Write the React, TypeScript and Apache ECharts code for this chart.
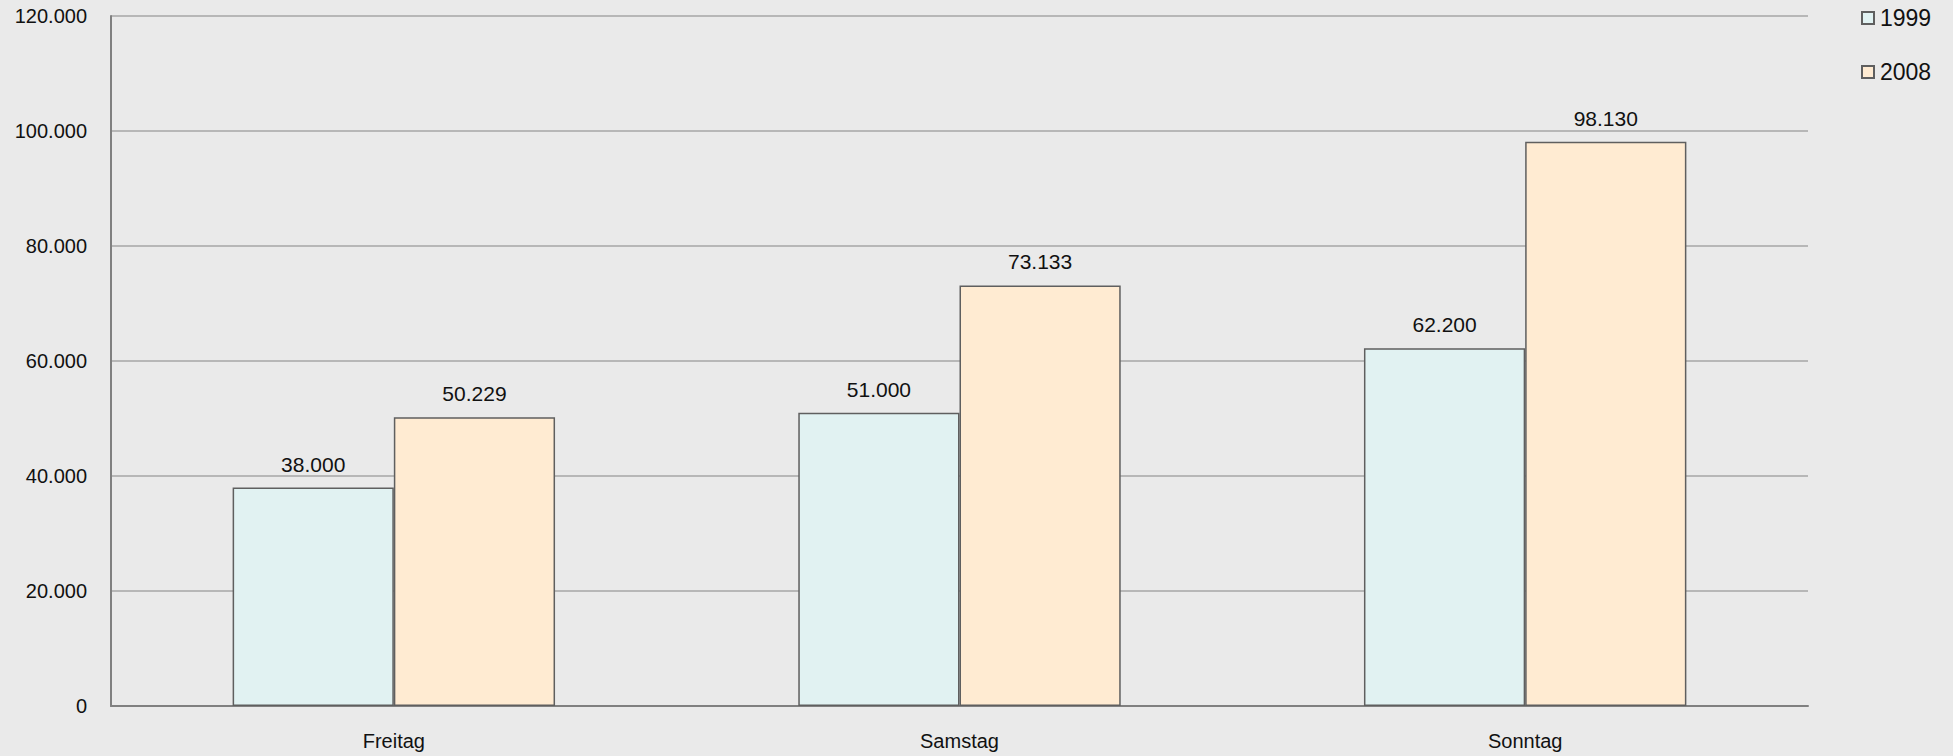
import React, { useEffect, useRef } from "react";
import * as echarts from "echarts";

const categories = ["Freitag", "Samstag", "Sonntag"];
const values1999 = [38000, 51000, 62200];
const values2008 = [50229, 73133, 98130];
const seriesNames = ["1999", "2008"];

const fmt = (v: number) => {
  const s = Math.round(v).toString();
  return s.replace(/\B(?=(\d{3})+(?!\d))/g, ".");
};

export default function App() {
  const ref = useRef<HTMLDivElement>(null);
  useEffect(() => {
    document.body.style.margin = "0";
    const chart = echarts.init(ref.current!, undefined, { renderer: "svg" });
    const font = "'Liberation Sans', Arial, sans-serif";
    const edge = "#5f5f5f";
    chart.setOption({
      animation: false,
      backgroundColor: "#eaeaea",
      textStyle: { fontFamily: font },
      grid: { left: 111, right: 145, top: 16, bottom: 50, containLabel: false },
      legend: {
        orient: "vertical",
        left: 1861,
        top: 6,
        padding: 0,
        itemWidth: 12,
        itemHeight: 12,
        itemGap: 30,
        icon: "rect",
        textStyle: { fontSize: 23, color: "#111", fontFamily: font, lineHeight: 24, padding: [0, 0, 0, 1] },
        data: seriesNames,
      },
      xAxis: {
        type: "category",
        data: categories,
        axisTick: { show: false },
        axisLine: { lineStyle: { color: "#808080", width: 2 } },
        axisLabel: { fontSize: 20, color: "#111", margin: 25, fontFamily: font },
      },
      yAxis: {
        type: "value",
        min: 0,
        max: 120000,
        interval: 20000,
        axisLine: { show: true, lineStyle: { color: "#808080", width: 2 } },
        axisTick: { show: false },
        splitLine: { lineStyle: { color: "#a6a6a6", width: 1.5 } },
        axisLabel: { fontSize: 20, color: "#111", margin: 24, fontFamily: font, formatter: (v: number) => fmt(v) },
      },
      series: [
        {
          name: seriesNames[0],
          type: "bar",
          data: values1999,
          barWidth: "28.5%",
          barGap: "0%",
          itemStyle: { color: "#e1f2f2", borderColor: edge, borderWidth: 1.5 },
          label: { show: true, position: "top", distance: 13, fontSize: 21, color: "#111", fontFamily: font, formatter: (p: any) => fmt(p.value) },
        },
        {
          name: seriesNames[1],
          type: "bar",
          data: values2008,
          barWidth: "28.5%",
          barGap: "0%",
          itemStyle: { color: "#ffebd2", borderColor: edge, borderWidth: 1.5 },
          label: { show: true, position: "top", distance: 13, fontSize: 21, color: "#111", fontFamily: font, formatter: (p: any) => fmt(p.value) },
        },
      ],
    });
    return () => chart.dispose();
  }, []);
  return <div ref={ref} style={{ position: "absolute", left: 0, top: 0, width: 1953, height: 756 }} />;
}
